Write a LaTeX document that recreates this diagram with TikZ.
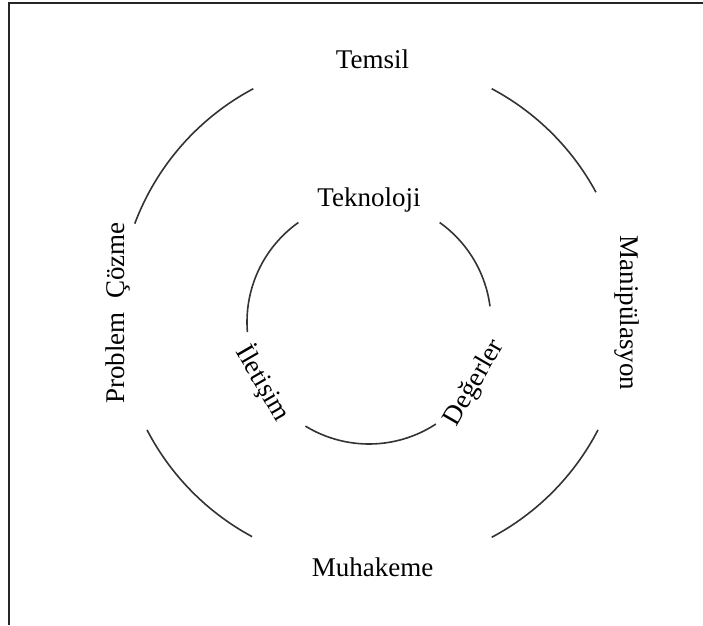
\documentclass[tikz,border=0pt]{standalone}
\usepackage{fontspec}
\setmainfont{Liberation Serif}
\usetikzlibrary{calc,positioning}

\begin{document}
\begin{tikzpicture}[x=1pt,y=1pt,lbl/.style={font=\fontsize{27}{32}\selectfont,inner sep=0pt},ring/.style={line width=1.6pt,black!80}]
  \useasboundingbox (0,0) rectangle (703,625);
  \draw[line width=2pt,black!85] (9,0) -- (9,622) -- (703,622);
  \coordinate (o) at (372.5,312);
  \coordinate (c) at (369,303);
  % outer ring
  \node[lbl] (temsil) at ($(o)+(90:254)$) {Temsil};
  \node[lbl,rotate=-90] (manip) at ($(o)+(0:254)$) {Manipülasyon};
  \node[lbl] (muhakeme) at ($(o)+(270:254)$) {Muhakeme};
  \node[lbl,rotate=90] (problem) at ($(o)+(180:254)$) {Problem\ \ Çözme};
  \foreach \a/\b in {28.4/62,118/159.4,207.4/241.7,298/332.6}
    \draw[ring] (o) ++(\a:254) arc[start angle=\a,end angle=\b,radius=254];
  % inner ring
  \node[lbl] (teknoloji) at ($(c)+(90:122)$) {Teknoloji};
  \node[lbl,rotate=-60] (iletisim) at ($(c)+(210:122)$) {İletişim};
  \node[lbl,rotate=60] (degerler) at ($(c)+(330:122)$) {Değerler};
  \foreach \a/\b in {7.4/54.6,125.4/184.8,238.6/303.2}
    \draw[ring] (c) ++(\a:122) arc[start angle=\a,end angle=\b,radius=122];
\end{tikzpicture}
\end{document}
